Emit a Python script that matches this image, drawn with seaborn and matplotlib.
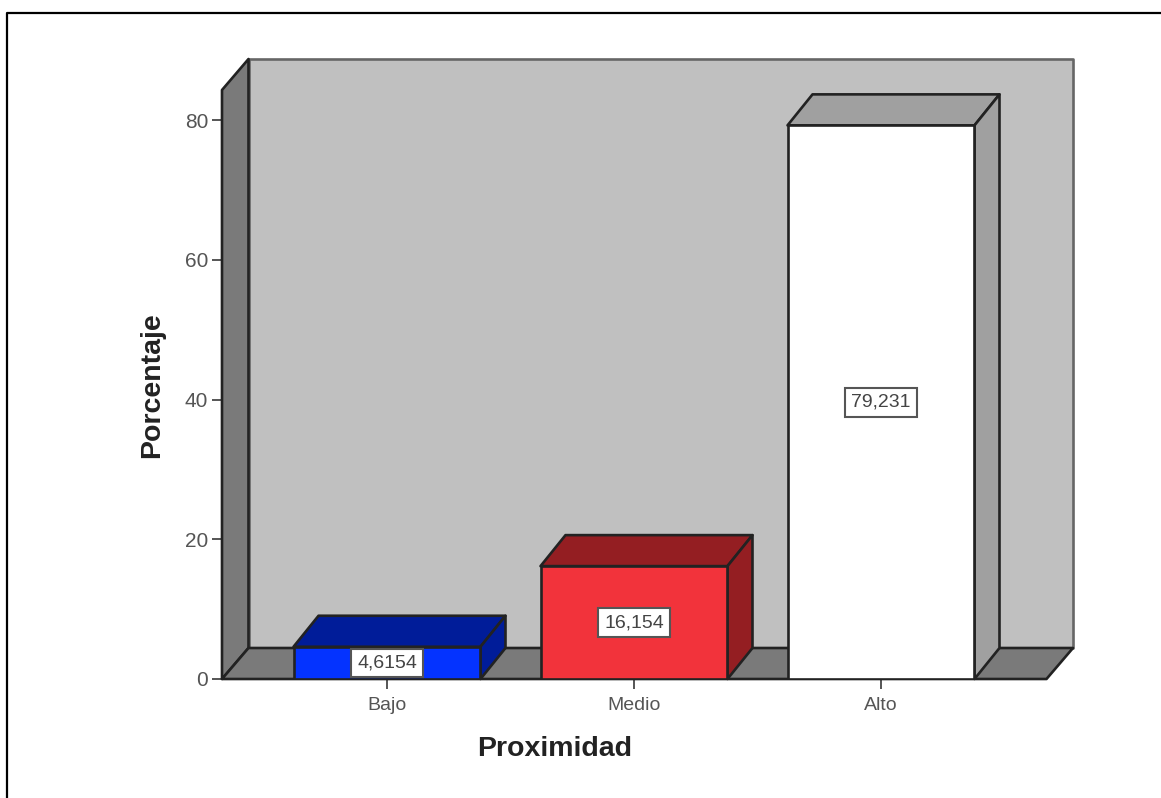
import matplotlib
matplotlib.use("Agg")
import matplotlib.pyplot as plt
import pandas as pd
import seaborn as sns
from matplotlib.patches import Polygon
from matplotlib.lines import Line2D

categories = ["Bajo", "Medio", "Alto"]
percentages = [4.6154, 16.154, 79.231]
value_labels = ["4,6154", "16,154", "79,231"]
y_ticks = [0, 20, 40, 60, 80]
front_colors = ["#0433FF", "#F2333B", "#FFFFFF"]
dark_colors = ["#001C99", "#941E22", "#A0A0A0"]

W, H = 1161, 798
sns.set_theme(style="white")
plt.rcParams["font.family"] = ["Liberation Sans", "DejaVu Sans"]

fig = plt.figure(figsize=(W / 100, H / 100), dpi=100, facecolor="white")
L, R, T, B = 222, 1073, 59, 679
ax = fig.add_axes([L / W, 1 - B / H, (R - L) / W, (B - T) / H])
ax.patch.set_alpha(0)

PX_X = 247.0
PX_Y = 6.9875
DX = 26.5 / PX_X
BAR_DX = 25 / PX_X
DY = 31 / PX_Y
EDGE = "#222222"
LW = 1.9

df = pd.DataFrame({"Proximidad": categories, "Porcentaje": percentages})
sns.barplot(data=df, x="Proximidad", y="Porcentaje", hue="Proximidad",
            palette=dict(zip(categories, front_colors)), legend=False,
            width=0.757, saturation=1, edgecolor=EDGE, linewidth=LW,
            ax=ax, zorder=5)

x0 = (L - 387) / PX_X
x1 = (R - 387) / PX_X
ymax = (B - T) / PX_Y
ax.set_xlim(x0, x1)
ax.set_ylim(0, ymax)

# Chart box: back wall, left wall and floor
def face(pts, fc, z=1, lw=LW, ec=EDGE):
    ax.add_patch(Polygon(pts, closed=True, facecolor=fc, edgecolor=ec,
                         linewidth=lw, zorder=z, clip_on=False, joinstyle="round"))

face([(x0 + DX, DY), (x1, DY), (x1, ymax), (x0 + DX, ymax)], "#C0C0C0", 1, ec="#666666")
face([(x0, 0), (x0 + DX, DY), (x0 + DX, ymax), (x0, ymax - DY)], "#7A7A7A", 2)
face([(x0, 0), (x1 - DX, 0), (x1, DY), (x0 + DX, DY)], "#7A7A7A", 2)

# Depth faces built from the bars seaborn drew
for bar, dark in zip(ax.patches[:3], dark_colors):
    a, w, h = bar.get_x(), bar.get_width(), bar.get_height()
    b = a + w
    face([(a, h), (b, h), (b + BAR_DX, h + DY), (a + BAR_DX, h + DY)], dark, 4)
    face([(b, 0), (b + BAR_DX, DY), (b + BAR_DX, h + DY), (b, h)], dark, 4)

for xpos, value, label in zip(range(3), percentages, value_labels):
    ax.text(xpos, value / 2, label, ha="center", va="center", fontsize=14,
            color="#444444", zorder=7,
            bbox=dict(boxstyle="square,pad=0.3", facecolor="white",
                      edgecolor="#555555", linewidth=1.5))

for s in ax.spines.values():
    s.set_visible(False)

ax.set_yticks(y_ticks)
ax.set_yticklabels([str(v) for v in y_ticks], fontsize=15, color="#555555")
ax.tick_params(axis="both", length=7, width=1.4, color="#555555",
               left=True, bottom=True, pad=3, labelcolor="#555555")
ax.tick_params(axis="x", pad=6, labelsize=14)
ax.set_xlabel("")
ax.set_ylabel("")

fig.text(555 / W, 1 - 749 / H, "Proximidad", ha="center", va="center",
         fontsize=20.5, fontweight="bold", color="#222222")
fig.text(152 / W, 1 - 385.5 / H, "Porcentaje", ha="center", va="center",
         rotation=90, fontsize=20.5, fontweight="bold", color="#222222")

# Outer frame (left and top edges only)
fig.add_artist(Line2D([6.5 / W, 6.5 / W, 1], [0, 1 - 12.5 / H, 1 - 12.5 / H],
                      transform=fig.transFigure, color="black", linewidth=1.6))

fig.savefig("out.png", dpi=100)
